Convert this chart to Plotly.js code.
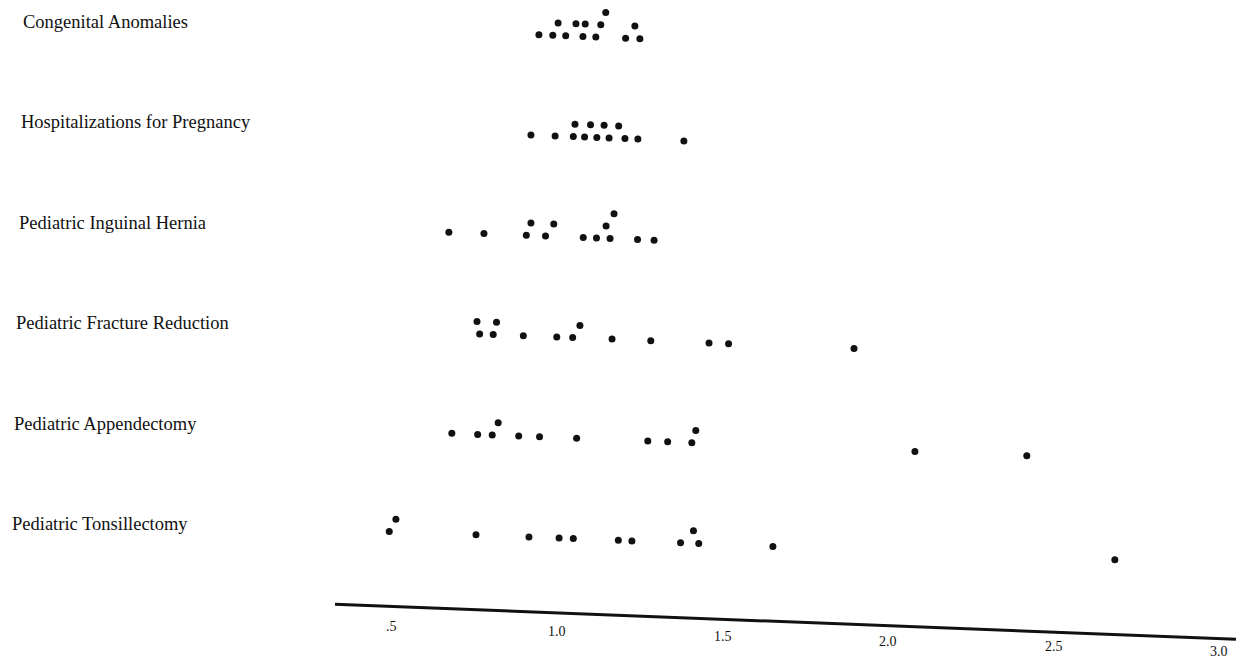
<!DOCTYPE html>
<html><head><meta charset="utf-8">
<script src="https://cdn.plot.ly/plotly-3.0.1.min.js"></script>
<style>html,body{margin:0;padding:0;background:#fff;overflow:hidden}</style>
</head><body>
<div id="chart" style="width:1236px;height:659px"></div>
<script>
// Categories, top to bottom
const categories = [
  "Congenital Anomalies",
  "Hospitalizations for Pregnancy",
  "Pediatric Inguinal Hernia",
  "Pediatric Fracture Reduction",
  "Pediatric Appendectomy",
  "Pediatric Tonsillectomy"
];

// Ratio values for each hospital area
const congenitalAnomalies = [0.944, 0.986, 1.002, 1.025, 1.056, 1.077, 1.084, 1.116, 1.131, 1.146, 1.206, 1.234, 1.249];
const congenitalStack     = [0, 0, 1, 0, 1, 0, 1, 0, 1, 2, 0, 1, 0];

const pregnancy      = [0.920, 0.993, 1.048, 1.053, 1.082, 1.100, 1.119, 1.141, 1.156, 1.185, 1.204, 1.243, 1.382];
const pregnancyStack = [0, 0, 0, 1, 0, 1, 0, 1, 0, 1, 0, 0, 0];

const inguinalHernia      = [0.672, 0.778, 0.906, 0.920, 0.964, 0.989, 1.078, 1.118, 1.147, 1.159, 1.171, 1.242, 1.292];
const inguinalHerniaStack = [0, 0, 0, 1, 0, 1, 0, 0, 1, 0, 2, 0, 0];

const fracture      = [0.757, 0.765, 0.806, 0.816, 0.897, 0.998, 1.046, 1.068, 1.165, 1.282, 1.458, 1.517, 1.896];
const fractureStack = [1, 0, 0, 1, 0, 0, 0, 1, 0, 0, 0, 0, 0];

const appendectomy      = [0.681, 0.759, 0.803, 0.821, 0.883, 0.946, 1.058, 1.273, 1.333, 1.406, 1.418, 2.080, 2.418];
const appendectomyStack = [0, 0, 0, 1, 0, 0, 0, 0, 0, 0, 1, 0, 0];

const tonsillectomy      = [0.492, 0.512, 0.754, 0.914, 1.005, 1.048, 1.184, 1.225, 1.372, 1.411, 1.427, 1.651, 2.684];
const tonsillectomyStack = [0, 1, 0, 0, 0, 0, 0, 0, 0, 1, 0, 0, 0];

const tickVals   = [0.5, 1.0, 1.5, 2.0, 2.5, 3.0];
const tickLabels = [".5", "1.0", "1.5", "2.0", "2.5", "3.0"];

const series = [
  [congenitalAnomalies, congenitalStack],
  [pregnancy, pregnancyStack],
  [inguinalHernia, inguinalHerniaStack],
  [fracture, fractureStack],
  [appendectomy, appendectomyStack],
  [tonsillectomy, tonsillectomyStack]
];

// Emulate the slight tilt of the scanned page
const SKEW = 0.1284;      // y-units per x-unit
const STACK_STEP = 0.124; // y-units per stacked dot
const tilt = v => SKEW * (v - 1);

const traces = series.map(([vals, stack], i) => ({
  type: 'scatter',
  mode: 'markers',
  name: categories[i],
  x: vals,
  y: vals.map((v, k) => i - stack[k] * STACK_STEP + tilt(v)),
  marker: {color: '#111', size: 7},
  hovertemplate: categories[i] + ': %{x:.2f}<extra></extra>',
  showlegend: false
}));

const AXIS_Y = 5.745;
const axisStart = 0.328, axisEnd = 3.05;
const LABEL_Y = 5.88, LABEL_TILT = 0.1;

const serif = 'Liberation Serif, Times New Roman, serif';
const annotations = categories.map((c, i) => ({
  xref: 'paper', yref: 'y',
  x: (21 - 2.2 * i) / 1236, y: i - 0.135,
  xanchor: 'left', yanchor: 'middle',
  text: c, showarrow: false,
  font: {family: serif, size: 18.5, color: '#111'}
})).concat(tickVals.map((v, k) => ({
  xref: 'x', yref: 'y',
  x: v, y: LABEL_Y + LABEL_TILT * (v - 0.5),
  xanchor: 'center', yanchor: 'middle',
  text: tickLabels[k], showarrow: false,
  font: {family: serif, size: 14, color: '#111'}
})));

const layout = {
  width: 1236, height: 659,
  margin: {l: 0, r: 0, t: 0, b: 0},
  paper_bgcolor: '#fff', plot_bgcolor: '#fff',
  xaxis: {range: [-0.684, 3.050], showgrid: false, zeroline: false, showline: false,
          showticklabels: false, ticks: '', fixedrange: true},
  yaxis: {range: [6.204, -0.353], showgrid: false, zeroline: false, showline: false,
          showticklabels: false, ticks: '', fixedrange: true},
  shapes: [{
    type: 'line', xref: 'x', yref: 'y',
    x0: axisStart, y0: AXIS_Y + tilt(axisStart),
    x1: axisEnd, y1: AXIS_Y + tilt(axisEnd),
    line: {color: '#111', width: 3}
  }],
  annotations: annotations
};

Plotly.newPlot('chart', traces, layout, {displayModeBar: false, staticPlot: true});
</script>
</body></html>
